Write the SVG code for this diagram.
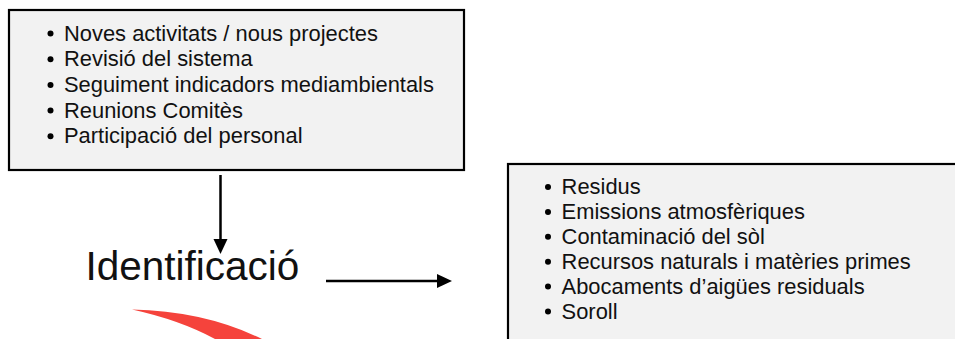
<svg xmlns="http://www.w3.org/2000/svg" width="955" height="339" viewBox="0 0 955 339">
<style>
.box{fill:#f2f2f2;stroke:#000;stroke-width:2.2}
.t{font-family:"Liberation Sans",Arial,sans-serif;font-size:21.9px;fill:#111}
.big{font-family:"Liberation Sans",Arial,sans-serif;font-size:40.5px;fill:#111}
.conn{stroke:#000;stroke-width:2.5;fill:none}
</style>
<defs>
<marker id="ah" markerUnits="userSpaceOnUse" markerWidth="15" markerHeight="15" refX="0" refY="7" orient="auto" viewBox="0 0 15 14">
<path d="M0,0 L15,7 L0,14 z" fill="#000"/>
</marker>
</defs>
<rect width="955" height="339" fill="#fff"/>
<g id="node-triggers">
<rect class="box" x="9" y="10" width="455" height="160"/>
<g fill="#000">
<circle cx="50.5" cy="33.5" r="3"/>
<circle cx="50.5" cy="59.2" r="3"/>
<circle cx="50.5" cy="84.9" r="3"/>
<circle cx="50.5" cy="110.6" r="3"/>
<circle cx="50.5" cy="136.3" r="3"/>
</g>
<text class="t" x="64" y="40.5">Noves activitats / nous projectes</text>
<text class="t" x="64" y="66.2">Revisió del sistema</text>
<text class="t" x="64" y="91.9">Seguiment indicadors mediambientals</text>
<text class="t" x="64" y="117.6">Reunions Comitès</text>
<text class="t" x="64" y="143.3">Participació del personal</text>
</g>
<g id="node-identificacio">
<text class="big" x="85.5" y="280">Identificació</text>
</g>
<g id="node-aspects">
<rect class="box" x="508" y="164" width="460" height="190"/>
<g fill="#000">
<circle cx="548" cy="187" r="3"/>
<circle cx="548" cy="211.9" r="3"/>
<circle cx="548" cy="236.8" r="3"/>
<circle cx="548" cy="261.7" r="3"/>
<circle cx="548" cy="286.6" r="3"/>
<circle cx="548" cy="311.5" r="3"/>
</g>
<text class="t" x="561.6" y="194">Residus</text>
<text class="t" x="561.6" y="218.9">Emissions atmosfèriques</text>
<text class="t" x="561.6" y="243.8">Contaminació del sòl</text>
<text class="t" x="561.6" y="268.7">Recursos naturals i matèries primes</text>
<text class="t" x="561.6" y="293.6">Abocaments d’aigües residuals</text>
<text class="t" x="561.6" y="318.5">Soroll</text>
</g>
<g id="connectors">
<line class="conn" x1="220.5" y1="175" x2="220.5" y2="239" marker-end="url(#ah)"/>
<line class="conn" x1="326" y1="281" x2="437" y2="281" marker-end="url(#ah)"/>
<path d="M132,309.5 Q205,311 262,339 L215,339 Q180,320 132,309.5 Z" fill="#f5433c"/>
</g>
</svg>
